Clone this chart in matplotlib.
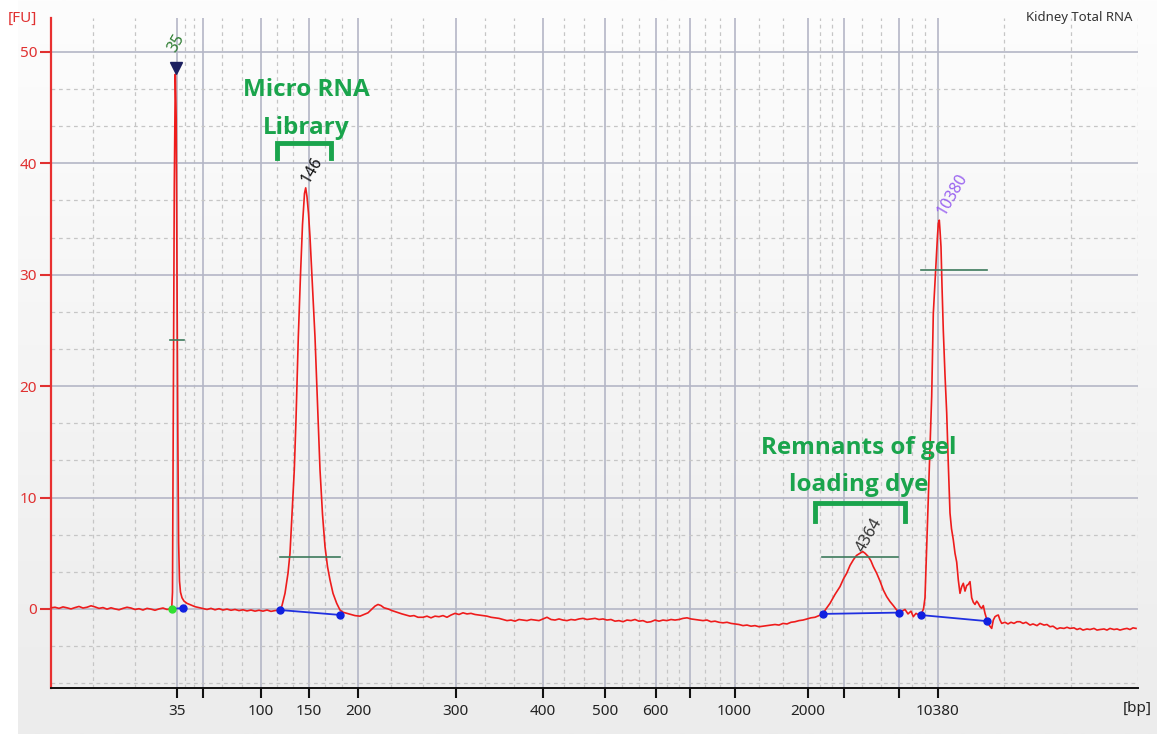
import numpy as np
import matplotlib
matplotlib.use("Agg")
import matplotlib.pyplot as plt
from matplotlib.colors import LinearSegmentedColormap

# ---------------- data (x = migration position, y = fluorescence [FU]) -------------
trace_x = [51, 55, 59, 63, 67, 71, 75, 79, 83, 87, 91, 95, 99, 103, 107, 111, 115, 119, 123, 127,
           131, 135, 139, 143, 147, 151, 155, 159, 163, 167, 170, 171.7,
           172.5, 173.3, 174.3, 175.3, 176.2, 177.0, 177.8, 178.6, 179.5, 180.5, 182, 184, 187, 191,
           195, 199, 203, 207, 211, 215, 219, 223, 227, 231, 235, 239, 243, 247, 251, 255, 259, 263,
           267, 271, 275, 279, 280,
           282, 285, 288, 290, 292, 294.3, 296, 298.3, 300.5, 302.5, 304.5, 305.7, 307, 308.5, 310,
           312.5, 315, 317.5, 320, 322.5, 325, 327.5, 330, 333, 336.7, 340, 343, 347, 351, 355, 360,
           364, 368, 372, 375, 378, 381, 384, 388, 392, 397, 402, 406, 410, 414, 418, 423, 427, 431,
           435, 439, 443, 447, 451, 455, 459, 463, 467, 471, 475, 479, 483, 487, 491, 495, 499, 503,
           507, 511, 515, 519, 523, 527, 531, 535, 539, 543, 547, 551, 555, 559, 563, 567, 571, 575,
           579, 583, 587, 591, 595, 599, 603, 607, 611, 615, 619, 623, 627, 631, 635, 639, 643, 647,
           651, 655, 659, 663, 667, 671, 675, 679, 683, 687, 691, 695, 699, 703, 707, 711, 715, 719,
           723, 727, 731, 735, 739, 743, 747, 751, 755, 759, 763, 767, 771, 775, 779, 783, 787, 791,
           795, 799, 803, 807, 811, 815, 819, 822.7,
           826, 830, 835, 840, 843.5, 846.7, 850, 853.3, 856.5, 860, 862.7, 865, 868.3, 871, 873.3,
           876.7, 880, 883.3, 886.7, 890, 893.3, 896.7, 899.3, 902, 905, 908, 911, 913.3, 916, 919, 921,
           923.5, 925, 926.7, 928.3, 930, 931.7, 933.3, 934.8, 936, 937.5, 938.3, 939.3, 940, 941, 942,
           943.3, 945, 946.7, 948.3, 950, 951.5, 953.3, 955, 956.7, 958.3, 960, 961.7, 963.3, 965,
           966.7, 968.3, 970, 971.7, 973.3, 975, 976.7, 978.3, 980, 981.7, 983.3, 985, 987.3, 989.5,
           991.7, 993.3, 995, 996.7, 998.3, 1000, 1001.7, 1005, 1008, 1011, 1014, 1017, 1020, 1023,
           1026, 1030, 1033, 1037, 1040, 1044, 1047, 1050, 1053, 1057, 1060, 1064, 1067, 1070, 1074,
           1077, 1080, 1083, 1087, 1090, 1094, 1097, 1100, 1104, 1107, 1110, 1114, 1117, 1120, 1124,
           1127, 1130, 1133, 1136]
trace_y = [0.10, 0.15, 0.05, 0.18, 0.10, 0.0, 0.12, 0.22, 0.08, 0.15, 0.28, 0.18, 0.05, 0.12, -0.02,
           0.10, 0.0, -0.08, 0.05, 0.15, 0.08, -0.05, 0.02, -0.10, 0.05, -0.02, -0.12, 0.0, 0.08,
           -0.05, 0.0, 0.0,
           1.5, 18, 38, 48.0, 44, 30, 16, 6, 2.5, 1.5, 1.0, 0.7, 0.5, 0.35,
           0.2, 0.12, 0.05, -0.05, 0.05, -0.08, 0.02, -0.1, -0.02, -0.12, -0.05, -0.15, -0.08, -0.18,
           -0.1, -0.2, -0.12, -0.2, -0.1, -0.22, -0.15, -0.1, -0.1,
           0.3, 1.4, 3.2, 5.0, 8.5, 12.5, 17, 24.4, 30, 34.5, 37.3, 37.8, 37.0, 35.5, 33.4,
           28.8, 24.4, 18.5, 12.5, 8.5, 5.6, 3.8, 2.6, 1.4, 0.5, -0.1, -0.3, -0.4, -0.5, -0.6, -0.65,
           -0.5, -0.35, 0.0, 0.25, 0.4, 0.3, 0.1, 0.0, -0.15, -0.3, -0.45, -0.55, -0.65, -0.6, -0.75,
           -0.75, -0.65, -0.8, -0.65, -0.7, -0.6, -0.75, -0.55, -0.4, -0.5, -0.35, -0.45, -0.4, -0.5,
           -0.55, -0.6, -0.65, -0.75, -0.8, -0.85, -0.95, -1.05, -1.0, -1.1, -0.95, -1.0, -1.05, -0.95,
           -1.0, -1.05, -0.9, -0.75, -0.95, -1.0, -0.9, -1.0, -1.05, -0.95, -1.0, -0.9, -0.85, -0.95,
           -0.9, -0.85, -0.95, -0.9, -1.0, -0.95, -1.1, -1.05, -1.15, -1.0, -1.05, -0.95, -1.1, -1.05,
           -1.2, -1.15, -1.0, -1.1, -1.0, -1.05, -0.95, -1.0, -0.95, -0.85, -0.8, -0.9, -0.95, -1.0,
           -1.05, -1.0, -1.15, -1.1, -1.2, -1.25, -1.2, -1.3, -1.35, -1.4, -1.5, -1.45, -1.55, -1.5,
           -1.6, -1.55, -1.5, -1.45, -1.4, -1.45, -1.3, -1.35, -1.2, -1.15, -1.05, -1.0, -0.9, -0.8,
           -0.75, -0.6, -0.45,
           0.0, 0.5, 1.3, 2.0, 2.7, 3.2, 3.9, 4.4, 4.8, 5.0, 5.15, 5.0, 4.7, 4.3, 3.8,
           3.2, 2.5, 1.7, 1.1, 0.66, 0.3, -0.1, -0.3, -0.2, -0.05, -0.45, -0.2, -0.7, -0.4, -0.55, -0.5,
           0.0, 1.0, 5.6, 10, 14.6, 19.1, 26.5, 29, 31, 33.5, 34.6, 34.9, 34.0, 32.5, 29,
           25, 21, 17.6, 13, 8.6, 7.2, 6.2, 5.0, 4.2, 2.6, 1.4, 2.0, 2.3, 1.6,
           2.1, 2.2, 2.45, 1.0, 0.6, 0.4, 0.7, 0.5, 0.2, 0.05, 0.3, -0.4, -1.1, -1.5,
           -1.75, -1.0, -0.7, -0.6, -0.55, -1.0, -1.3, -1.2, -1.35, -1.2, -1.3, -1.15, -1.15, -1.3,
           -1.2, -1.45, -1.35, -1.5, -1.3, -1.45, -1.4, -1.6, -1.55, -1.8, -1.7, -1.75, -1.65, -1.75,
           -1.7, -1.85, -1.75, -1.9, -1.8, -1.85, -1.75, -1.9, -1.85, -1.8, -1.9, -1.75, -1.85, -1.8,
           -1.9, -1.8, -1.75, -1.85, -1.7, -1.75]

# peak baselines (start, end) as (x, y) pairs
base_x = [[171.7, 182.7], [280, 340], [822.7, 899.3], [920.7, 987.3]]
base_y = [[0.0, 0.08], [-0.1, -0.54], [-0.45, -0.33], [-0.55, -1.1]]

# peak half-height markers
mark_x = [[170, 184], [280, 340], [822, 898], [920.7, 986.7]]
mark_y = [24.1, 4.7, 4.7, 30.4]

# peak labels
peak_labels = ["35", "146", "4364", "10380"]
peak_lab_x = [176, 312, 869, 952]
peak_lab_y = [50.8, 39.4, 6.6, 37.2]
peak_lab_col = ["#2e7d32", "#111111", "#333333", "#9a63f0"]

# x axis ticks (migration positions) and labels in bp
major_pos = [176.7, 202.7, 261, 309, 358, 455.5, 543, 604.7, 655.5, 690.4, 734.6,
             807.5, 844.3, 898.7, 937.7]
major_lab = ["35", "", "100", "150", "200", "300", "400", "500", "600", "", "1000",
             "2000", "", "", "10380"]
y_ticks = [0, 10, 20, 30, 40, 50]

XMIN, XMAX = 51, 1137.6
YMIN, YMAX = -7.1, 53.05

# ---------------- figure ------------------------------------------------------------
W, H = 1157, 734
fig = plt.figure(figsize=(W / 100, H / 100), dpi=100)
fig.patch.set_facecolor("white")

# background gradient (window panel)
bg = fig.add_axes([18 / W, 0, 1 - 18 / W, 1])
bg.set_axis_off()
cmap = LinearSegmentedColormap.from_list("g", ["#fdfdfd", "#ececec"])
bg.imshow(np.linspace(0, 1, 256).reshape(-1, 1), aspect="auto", cmap=cmap,
          extent=[0, 1, 0, 1], origin="upper")
bg.set_zorder(0)

ax = fig.add_axes([XMIN / W, (H - 688) / H, (XMAX - XMIN) / W, (688 - 18) / H])
ax.set_zorder(1)
ax.patch.set_alpha(0)
ax.set_xlim(XMIN, XMAX)
ax.set_ylim(YMIN, YMAX)

# grid
edges = [XMIN] + major_pos + [XMAX]
for a, b in zip(edges[:-1], edges[1:]):
    for f in (1 / 3, 2 / 3):
        ax.axvline(a + (b - a) * f, color="#c6c6c6", lw=0.9, ls=(0, (3, 3)), zorder=1)
ax.axvline(XMAX, color="#c6c6c6", lw=0.9, ls=(0, (3, 3)), zorder=1)
for p in major_pos:
    ax.axvline(p, color="#b4b6c6", lw=1.2, zorder=1)
for v in np.arange(-10, 60, 10):
    for f in (1 / 3, 2 / 3):
        ax.axhline(v + 10 * f, color="#c6c6c6", lw=0.9, ls=(0, (3, 3)), zorder=1)
for v in y_ticks:
    ax.axhline(v, color="#b4b6c6", lw=1.2, zorder=1)

# trace
ax.plot(trace_x, trace_y, color="#ee1c1c", lw=1.2, zorder=4)

# baselines & markers
for bx, by in zip(base_x, base_y):
    ax.plot(bx, by, color="#2030e0", lw=1.3, zorder=5)
    ax.plot(bx[1], by[1], "o", color="#1020e0", ms=5, zorder=6)
for bx, by in zip(base_x[1:], base_y[1:]):
    ax.plot(bx[0], by[0], "o", color="#1020e0", ms=5, zorder=6)
ax.plot(base_x[0][0], base_y[0][0], "o", color="#30e030", ms=5, zorder=6)
for mx, my in zip(mark_x, mark_y):
    ax.plot(mx, [my, my], color="#3d7a5c", lw=1.2, zorder=5)

ax.plot(176, 48.6, marker="v", color="#1c2060", ms=9, zorder=7)

for t, px, py, c in zip(peak_labels, peak_lab_x, peak_lab_y, peak_lab_col):
    ax.text(px, py, t, rotation=60, color=c, fontsize=11.5, ha="center", va="center",
            family="Noto Sans", rotation_mode="anchor", zorder=8)

# annotations
green = "#1aa44c"
afont = dict(color=green, fontsize=17.5, fontweight="bold", family="Open Sans",
             ha="center", va="center", zorder=9)
ax.text(306, 46.6, "Micro RNA", **afont)
ax.text(306, 43.2, "Library", **afont)
ax.text(859, 14.45, "Remnants of gel", **afont)
ax.text(859, 11.15, "loading dye", **afont)
ax.plot([277, 277, 331, 331], [40.45, 41.8, 41.8, 40.45], color=green, lw=3.5,
        solid_joinstyle="miter", zorder=9)
ax.plot([815, 815, 905, 905], [7.9, 9.55, 9.55, 7.9], color=green, lw=3.5,
        solid_joinstyle="miter", zorder=9)

# axes styling
for s in ("top", "right"):
    ax.spines[s].set_visible(False)
ax.spines["left"].set_color("#e83030")
ax.spines["left"].set_linewidth(1.6)
ax.spines["bottom"].set_color("#111111")
ax.spines["bottom"].set_linewidth(1.4)
ax.set_xticks(major_pos)
ax.set_xticklabels([])
for p, lab in zip(major_pos, major_lab):
    ax.text(p, -0.035, lab, transform=ax.get_xaxis_transform(), ha="center", va="center",
            fontsize=11, family="Noto Sans", color="#222222")
ax.text(XMAX, -0.03, "[bp]", transform=ax.get_xaxis_transform(), ha="center", va="center",
        fontsize=11, family="Noto Sans", color="#222222", clip_on=False)
ax.tick_params(axis="x", direction="out", length=7, width=1.5, color="#111111")
ax.set_yticks(y_ticks)
ax.set_yticklabels([str(v) for v in y_ticks], color="#e03030", fontsize=11, family="Noto Sans")
ax.tick_params(axis="y", direction="out", length=8, width=1.5, color="#e03030", pad=2)
fig.text(22 / W, 1 - 18 / H, "[FU]", color="#e03030", fontsize=11, family="Noto Sans",
         ha="center", va="center")
fig.text(1132 / W, 1 - 17 / H, "Kidney Total RNA", color="#333333", fontsize=9.5,
         family="Noto Sans", ha="right", va="center")

fig.savefig("out.png", dpi=100)
